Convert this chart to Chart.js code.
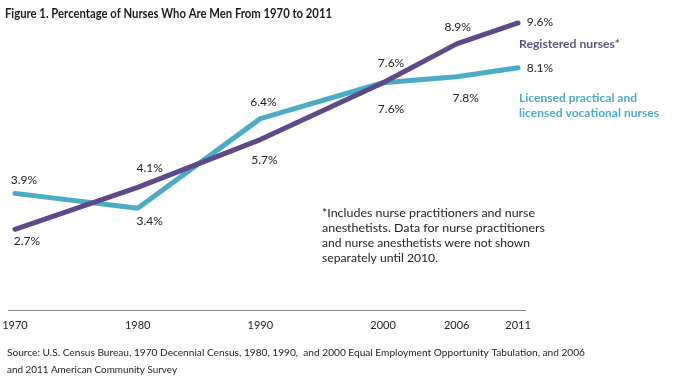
<!DOCTYPE html>
<html><head><meta charset="utf-8">
<script src="https://cdn.jsdelivr.net/npm/chart.js@4"></script>
<style>html,body{margin:0;padding:0;background:#fff;overflow:hidden}canvas{display:block}</style>
</head><body>
<canvas id="c" width="674" height="383"></canvas>
<script>
const years = [1970, 1980, 1990, 2000, 2006, 2011];
const tickLabels = ['1970', '1980', '1990', '2000', '2006', '2011'];
const registeredNurses = [2.7, 4.1, 5.7, 7.6, 8.9, 9.6];
const licensedNurses = [3.9, 3.4, 6.4, 7.6, 7.8, 8.1];
const registeredLabels = ['2.7%', '4.1%', '5.7%', '7.6%', '8.9%', '9.6%'];
const licensedLabels = ['3.9%', '3.4%', '6.4%', '7.6%', '7.8%', '8.1%'];
const titleText = 'Figure 1. Percentage of Nurses Who Are Men From 1970 to 2011';
const registeredName = 'Registered nurses*';
const licensedName = ['Licensed practical and', 'licensed vocational nurses'];
const footnoteLines = ['*Includes nurse practitioners and nurse', 'anesthetists. Data for nurse practitioners', 'and nurse anesthetists were not shown', 'separately until 2010.'];
const sourceLines = ['Source: U.S. Census Bureau, 1970 Decennial Census, 1980, 1990,  and 2000 Equal Employment Opportunity Tabulation, and 2006', 'and 2011 American Community Survey'];

// label offsets from each point (style only)
const registeredOffsets = [[12, 12], [12, -19], [4, 21], [8, -20], [1, -17], [22, -1]];
const licensedOffsets = [[9, -13], [12, 13], [3, -17], [8, 26], [9, 21], [22, 0]];

const PURPLE = '#5E4A89';
const TEAL = '#4BACC6';
const FONT = 'Lato, "Open Sans", sans-serif';

function drawFit(ctx, text, x, cy, width, font, color) {
  ctx.save();
  ctx.font = font;
  ctx.fillStyle = color;
  ctx.textBaseline = 'middle';
  ctx.textAlign = 'left';
  const w = ctx.measureText(text).width;
  ctx.translate(x, cy);
  ctx.scale(width / w, 1);
  ctx.fillText(text, 0, 0);
  ctx.restore();
}

const annot = {
  id: 'annot',
  afterDraw(chart) {
    const ctx = chart.ctx;
    const xs = chart.scales.x, ys = chart.scales.y;
    drawFit(ctx, titleText, 5, 14, 327, 'bold 13.5px ' + FONT, '#1a1a1a');

    ctx.save();
    ctx.font = '12px ' + FONT;
    ctx.fillStyle = '#222';
    ctx.textAlign = 'center';
    ctx.textBaseline = 'middle';
    years.forEach((yr, i) => {
      const px = xs.getPixelForValue(yr);
      ctx.fillText(registeredLabels[i], px + registeredOffsets[i][0], ys.getPixelForValue(registeredNurses[i]) + registeredOffsets[i][1]);
      ctx.fillText(licensedLabels[i], px + licensedOffsets[i][0], ys.getPixelForValue(licensedNurses[i]) + licensedOffsets[i][1]);
    });
    ctx.restore();

    drawFit(ctx, registeredName, 519, 44, 101, 'bold 12px ' + FONT, '#5F5283');
    drawFit(ctx, licensedName[0], 519, 98, 118, 'bold 12px ' + FONT, TEAL);
    drawFit(ctx, licensedName[1], 519, 113, 140, 'bold 12px ' + FONT, TEAL);

    const fw = [213, 223, 208, 116];
    footnoteLines.forEach((t, i) => drawFit(ctx, t, 322, 213 + i * 15, fw[i], '12px ' + FONT, '#222'));

    drawFit(ctx, sourceLines[0], 7, 353, 578, '10px ' + FONT, '#222');
    drawFit(ctx, sourceLines[1], 7, 370, 170, '10px ' + FONT, '#222');
  }
};

new Chart(document.getElementById('c'), {
  type: 'line',
  data: {
    datasets: [
      { label: registeredName, data: years.map((y, i) => ({ x: y, y: registeredNurses[i] })),
        borderColor: PURPLE, borderWidth: 5, pointRadius: 0, tension: 0,
        borderCapStyle: 'round', borderJoinStyle: 'round', fill: false },
      { label: licensedName.join(' '), data: years.map((y, i) => ({ x: y, y: licensedNurses[i] })),
        borderColor: TEAL, borderWidth: 5, pointRadius: 0, tension: 0,
        borderCapStyle: 'round', borderJoinStyle: 'round', fill: false }
    ]
  },
  options: {
    responsive: false, animation: false, devicePixelRatio: 1,
    layout: { padding: { left: 8, right: 149, top: 11, bottom: 0 } },
    plugins: { legend: { display: false }, tooltip: { enabled: false } },
    scales: {
      x: {
        type: 'linear', min: 1969.43, max: 2011.57,
        afterBuildTicks: s => { s.ticks = years.map(v => ({ value: v })); },
        afterFit: s => { s.height = 73; s.paddingLeft = 0; s.paddingRight = 0; },
        ticks: { callback: v => tickLabels[years.indexOf(v)], autoSkip: false, maxRotation: 0,
                 font: { family: FONT, size: 11 }, color: '#222', padding: 9 },
        grid: { display: false, drawTicks: false },
        border: { display: true, color: '#8a8a8a', width: 1 }
      },
      y: { display: false, min: 0, max: 10 }
    }
  },
  plugins: [annot]
});
</script>
</body></html>
